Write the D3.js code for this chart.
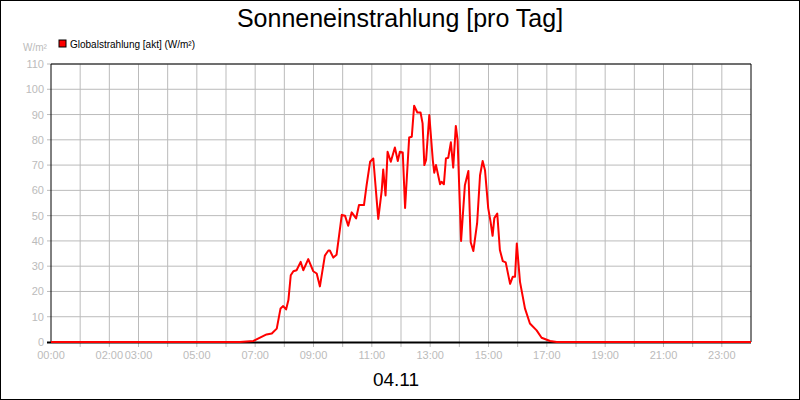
<!DOCTYPE html>
<html><head><meta charset="utf-8">
<script src="https://cdn.jsdelivr.net/npm/d3@7"></script>
<style>body{margin:0;background:#fff}svg{display:block;font-family:"Liberation Sans",Arial,sans-serif}</style>
</head><body><svg id="viz" width="800" height="400"></svg>
<script>
// Stunden (dezimal) und Werte W/m²
const hours = [0, 6.48, 6.94, 7.39, 7.57, 7.74, 7.87, 7.96, 8.06, 8.14, 8.22, 8.31, 8.42, 8.56, 8.65, 8.82, 8.99, 9.11, 9.22, 9.39, 9.51, 9.56, 9.68, 9.79, 9.97, 10.08, 10.19, 10.31, 10.46, 10.56, 10.73, 10.82, 10.94, 11.05, 11.22, 11.34, 11.39, 11.47, 11.54, 11.65, 11.79, 11.89, 11.96, 12.06, 12.14, 12.28, 12.37, 12.45, 12.56, 12.67, 12.74, 12.80, 12.86, 12.97, 13.09, 13.14, 13.20, 13.34, 13.39, 13.47, 13.54, 13.62, 13.71, 13.79, 13.88, 13.94, 14.06, 14.19, 14.31, 14.39, 14.48, 14.61, 14.71, 14.80, 14.88, 14.99, 15.07, 15.14, 15.20, 15.30, 15.39, 15.49, 15.59, 15.74, 15.83, 15.91, 15.97, 16.08, 16.25, 16.42, 16.65, 16.82, 17.11, 17.34, 24];
const values = [0, 0, 0.4, 3, 3.4, 5.3, 13.3, 14.2, 12.9, 16.6, 26.4, 28, 28.4, 31.7, 28.4, 32.8, 28, 27.1, 22, 34.2, 36.2, 36.2, 33.4, 34.5, 50.3, 50, 46, 51.3, 48.9, 54.2, 54.2, 62, 71.3, 72.6, 48.7, 60, 68.3, 58, 75.3, 71.3, 77, 71.6, 75.3, 75, 53, 80.9, 81.2, 93.5, 90.8, 90.8, 86.5, 70, 72, 89.8, 72, 67, 70, 62.4, 63.4, 62.4, 72.6, 72.9, 79, 69, 85.5, 80, 40, 62, 67.7, 39.5, 36, 47, 66, 71.6, 68, 53, 47.6, 42, 49, 50.8, 36.4, 32, 31.5, 23, 25.8, 25.8, 39, 23.8, 13.3, 7.3, 4.6, 1.7, 0.4, 0, 0];
const yTicks = d3.range(0, 111, 10);
const xLabelHours = [0, 2, 3, 5, 7, 9, 11, 13, 15, 17, 19, 21, 23];
const seriesName = "Globalstrahlung [akt] (W/m²)";

const svg = d3.select("#viz");
const m = {l: 51, r: 751, t: 64, b: 342};
const x = d3.scaleLinear().domain([0, 24]).range([m.l, m.r]);
const y = d3.scaleLinear().domain([0, 110]).range([m.b, m.t]);
const grey = "#bbb";

svg.append("rect").attr("x", 0.5).attr("y", 0.5).attr("width", 799).attr("height", 399)
  .attr("fill", "#fff").attr("stroke", "#000");

svg.append("text").attr("x", 400).attr("y", 27).attr("text-anchor", "middle")
  .attr("font-size", 25).text("Sonneneinstrahlung [pro Tag]");

// gitter
svg.append("g").selectAll("line").data(d3.range(1, 24)).join("line")
  .attr("x1", d => x(d)).attr("x2", d => x(d)).attr("y1", m.t).attr("y2", m.b + 5)
  .attr("stroke", grey);
svg.append("g").selectAll("line").data(yTicks.slice(1)).join("line")
  .attr("x1", m.l - 4).attr("x2", m.r).attr("y1", d => y(d)).attr("y2", d => y(d))
  .attr("stroke", grey);

svg.append("g").selectAll("text").data(yTicks).join("text")
  .attr("x", m.l - 7).attr("y", d => y(d) + 4).attr("text-anchor", "end")
  .attr("font-size", 11).attr("fill", grey).text(d => d);
svg.append("g").selectAll("text").data(xLabelHours).join("text")
  .attr("x", d => x(d)).attr("y", m.b + 17).attr("text-anchor", "middle")
  .attr("font-size", 11).attr("fill", grey).text(d => String(d).padStart(2, "0") + ":00");

svg.append("text").attr("x", 23).attr("y", 51).attr("font-size", 10).attr("fill", grey).text("W/m²");
svg.append("rect").attr("x", 59).attr("y", 40).attr("width", 7).attr("height", 7)
  .attr("fill", "#f00").attr("stroke", "#000");
svg.append("text").attr("x", 70).attr("y", 47.5).attr("font-size", 10).text(seriesName);

// rahmen
svg.append("path").attr("d", `M${m.l},${m.b}V${m.t}H${m.r}V${m.b}`).attr("fill", "none").attr("stroke", "#000");
svg.append("line").attr("x1", m.l - 4).attr("x2", m.r).attr("y1", m.b + 0.5).attr("y2", m.b + 0.5).attr("stroke", "#000").attr("stroke-width", 2);

svg.append("path").datum(d3.zip(hours, values))
  .attr("d", d3.line().x(d => x(d[0])).y(d => y(d[1])))
  .attr("fill", "none").attr("stroke", "#f00").attr("stroke-width", 2).attr("stroke-linejoin", "round");

svg.append("text").attr("x", 396).attr("y", 386).attr("text-anchor", "middle")
  .attr("font-size", 19).text("04.11");
</script></body></html>
